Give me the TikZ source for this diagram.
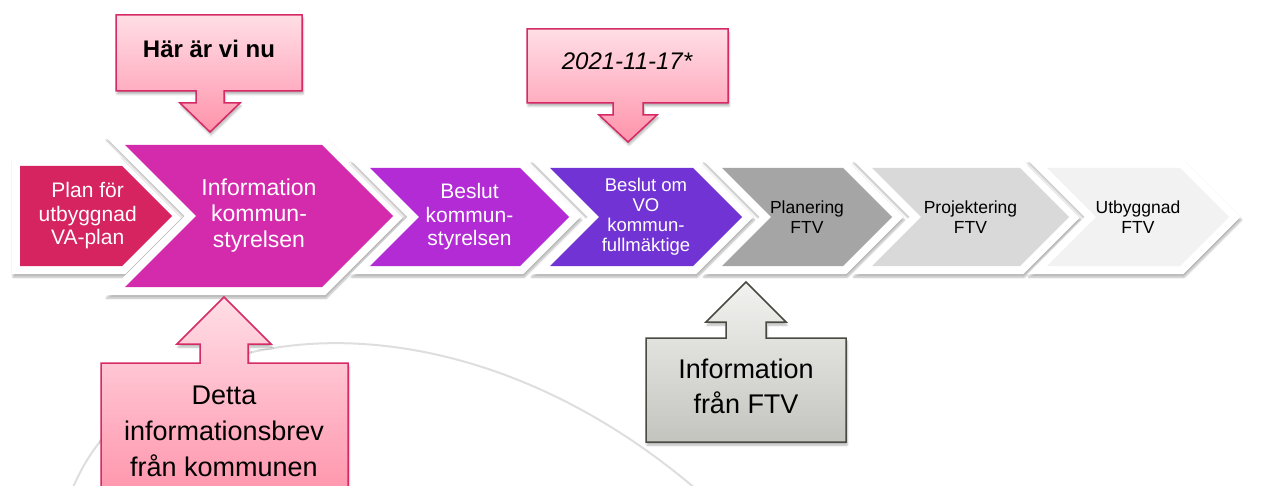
\documentclass[tikz,border=0pt]{standalone}
\usepackage{fontspec}
\setmainfont{Liberation Sans}
\usetikzlibrary{shadows.blur}

\definecolor{stepPlan}{HTML}{D5245F}
\definecolor{stepInfo}{HTML}{D42BAD}
\definecolor{stepBeslut}{HTML}{B22BD5}
\definecolor{stepVO}{HTML}{7133D3}
\definecolor{stepPlanering}{HTML}{A5A5A5}
\definecolor{stepProj}{HTML}{D9D9D9}
\definecolor{stepUtb}{HTML}{F2F2F2}
\definecolor{calloutEdge}{HTML}{D62A66}
\definecolor{calloutTop}{HTML}{FFDEE6}
\definecolor{calloutBottom}{HTML}{FF93AB}
\definecolor{grayEdge}{HTML}{4A4A42}
\definecolor{grayTop}{HTML}{F2F2F0}
\definecolor{grayBottom}{HTML}{C4C4BF}

\newcommand{\chevronStep}[9]{
% #1 = name, #2 = left x, #3 = right x (top corner), #4 = top y, #5 = bottom y
% #6 = notch (1 or 0), #7 = fill colour, #8 = text style, #9 = label
\pgfmathsetmacro{\chD}{(#5-#4)/2}
\pgfmathsetmacro{\chM}{(#4+#5)/2}
% white outline with shadow
\fill[white, step shadow] ({#2-8-11.3*#6},{#4-8}) -- ({#3+3.3},{#4-8}) -- ({#3+\chD+11.3},\chM)
    -- ({#3+3.3},{#5+8}) -- ({#2-8-11.3*#6},{#5+8}) -- ({#2-8+#6*(\chD-3.3)},\chM) -- cycle;
\fill[#7] (#2,#4) -- (#3,#4) -- ({#3+\chD},\chM) -- (#3,#5) -- (#2,#5) -- ({#2+#6*\chD},\chM) -- cycle;
\node[align=center, #8] (#1) at ({(#2+#3)/2+#6*\chD/2+(1-#6)*\chD/3},\chM) {#9};
}

\begin{document}
\begin{tikzpicture}[x=1pt, y=-1pt,
    step shadow/.style={blur shadow={shadow xshift=1pt, shadow yshift=-3pt, shadow opacity=30, shadow blur steps=6}},
    pink callout/.style={draw=calloutEdge, line width=1.5pt, line join=miter, top color=calloutTop, bottom color=calloutBottom, step shadow},
    gray callout/.style={draw=grayEdge, line width=1.5pt, line join=miter, top color=grayTop, bottom color=grayBottom, step shadow}]

    \useasboundingbox (0,0) rectangle (1284,486);

    % faint arc in the background
    \draw[line width=2pt, black!13] (72,490) .. controls (140,320) and (440,270) .. (697,490);

    % the steps, left to right
    \chevronStep{plan}{20}{122}{166}{266}{0}{stepPlan}{text=white, font=\fontsize{21}{23.5}\selectfont}{Plan för\\utbyggnad\\VA-plan}
    \chevronStep{info}{125}{322}{145}{287}{1}{stepInfo}{text=white, font=\fontsize{23}{26}\selectfont}{Information\\kommun-\\styrelsen}
    \chevronStep{beslut}{370}{520}{168}{266}{1}{stepBeslut}{text=white, font=\fontsize{21}{23.5}\selectfont}{Beslut\\kommun-\\styrelsen}
    \chevronStep{vo}{550}{693}{168}{266}{1}{stepVO}{text=white, font=\fontsize{18.5}{20}\selectfont}{Beslut om\\VO\\kommun-\\fullmäktige}
    \chevronStep{planering}{722}{843}{168}{266}{1}{stepPlanering}{text=black, font=\fontsize{17.5}{19.5}\selectfont}{Planering\\FTV}
    \chevronStep{proj}{872}{1020}{168}{266}{1}{stepProj}{text=black, font=\fontsize{17.5}{19.5}\selectfont}{Projektering\\FTV}
    \chevronStep{utb}{1047}{1180}{168}{266}{1}{stepUtb}{text=black, font=\fontsize{17.5}{19.5}\selectfont}{Utbyggnad\\FTV}

    % callout: where we are now
    \path[pink callout] (116,15) -- (302,15) -- (302,91) -- (224,91) -- (224,103) -- (240,103) -- (210,132)
        -- (180,103) -- (196,103) -- (196,91) -- (116,91) -- cycle;
    \node[font=\bfseries\fontsize{24}{26}\selectfont] (nu) at (209,49) {Här är vi nu};

    % callout: date
    \path[pink callout] (527,29) -- (728,29) -- (728,103) -- (643,103) -- (643,115) -- (657,115) -- (628,142)
        -- (599,115) -- (613,115) -- (613,103) -- (527,103) -- cycle;
    \node[font=\itshape\fontsize{24}{26}\selectfont] (datum) at (627,61) {2021-11-17*};

    % callout: this letter, pointing up
    \path[pink callout] (101,363) -- (200,363) -- (200,344) -- (177,344) -- (224,297) -- (271,344) -- (248,344)
        -- (248,363) -- (348,363) -- (348,500) -- (101,500) -- cycle;
    \node[align=center, font=\fontsize{27}{36}\selectfont] (brev) at (224,431) {Detta\\informationsbrev\\från kommunen};

    % callout: information from FTV
    \path[gray callout] (646,338) -- (726,338) -- (726,322) -- (706,322) -- (746,282) -- (786,322) -- (766,322)
        -- (766,338) -- (846,338) -- (846,442) -- (646,442) -- cycle;
    \node[align=center, font=\fontsize{27}{35}\selectfont] (ftv) at (746,386) {Information\\från FTV};

\end{tikzpicture}
\end{document}
